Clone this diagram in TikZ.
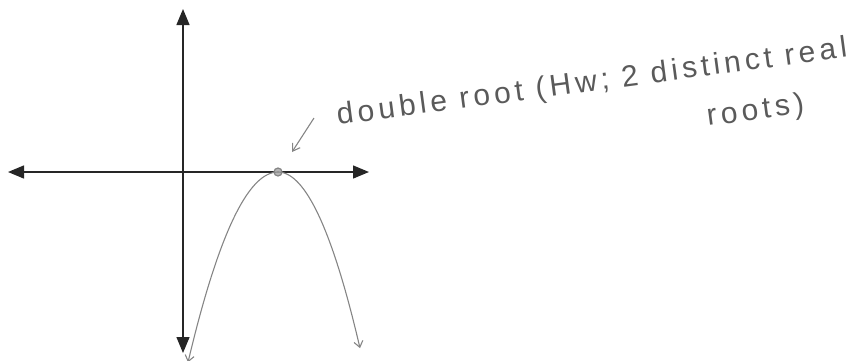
\documentclass[tikz,border=0pt]{standalone}
\usepackage{fontspec}
\setmainfont{Liberation Sans}
\newfontfamily\handfont[LetterSpace=14]{Liberation Sans}
\usetikzlibrary{arrows.meta,calc}
\definecolor{axisc}{HTML}{262626}
\definecolor{penc}{HTML}{858585}
\definecolor{inkc}{HTML}{5A5A5A}
\begin{document}
\begin{tikzpicture}[x=1pt,y=-1pt,
  axisline/.style={draw=axisc,line width=1.4pt,{Triangle[length=16pt,width=13pt]}-{Triangle[length=16pt,width=13pt]}},
  curveline/.style={draw=penc,line width=1.1pt},
  hand/.style={text=inkc,font=\handfont\fontsize{30}{33}\selectfont,inner sep=0pt}]
\useasboundingbox (0,0) rectangle (863,360);
% axes
\coordinate (xl) at (8,172);
\coordinate (xr) at (369,172);
\coordinate (yt) at (183,9);
\coordinate (yb) at (183,353);
\draw[axisline] (xl) -- (xr);
\draw[axisline] (yt) -- (yb);
% parabola
\node[circle,draw=penc,line width=1.2pt,fill=penc!60,inner sep=0pt,minimum size=8pt] (v) at (278,172) {};
\draw[curveline,-{Straight Barb[length=6pt,width=9pt]}] plot[domain=278:188,samples=40,smooth] (\x,{172+0.0235*(\x-278)*(\x-278)});
\draw[curveline,-{Straight Barb[length=6pt,width=9pt]}] plot[domain=278:360,samples=40,smooth] (\x,{172+0.0262*(\x-278)*(\x-278)});
% pointer arrow
\coordinate (ps) at (314,118);
\coordinate (pe) at ($(v)+(14,-20)$);
\draw[penc,line width=1.1pt,-{Straight Barb[length=7pt,width=9pt]}] (ps) -- (pe);
% text
\node[hand,rotate=7.6,anchor=base west] (t1) at (338,125) {double root (Hw; 2 distinct real};
\node[hand,rotate=7.6,anchor=base west] (t2) at (708,126) {roots)};
\end{tikzpicture}
\end{document}
